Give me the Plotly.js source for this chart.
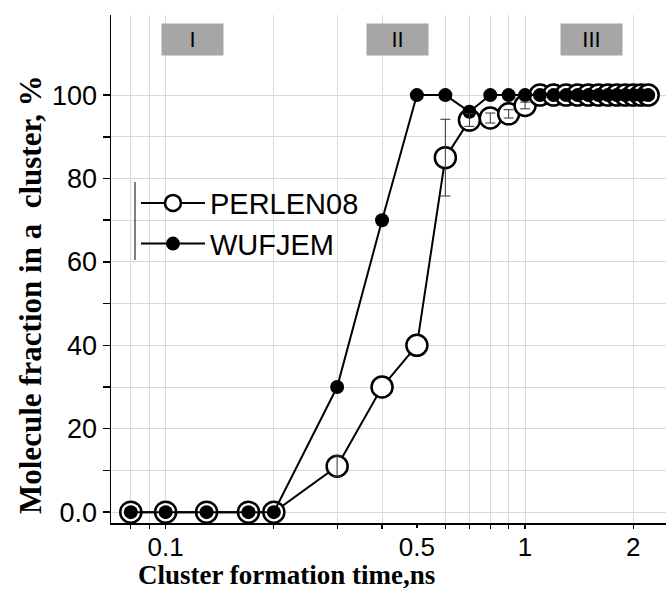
<!DOCTYPE html>
<html>
<head>
<meta charset="utf-8">
<script src="https://cdn.plot.ly/plotly-3.0.1.min.js"></script>
<style>html,body{margin:0;padding:0;background:#fff;}#chart{width:666px;height:591px;}</style>
</head>
<body>
<div id="chart"></div>
<script>
// Data
const timeNs = [0.08, 0.1, 0.13, 0.17, 0.2, 0.3, 0.4, 0.5, 0.6, 0.7, 0.8, 0.9, 1.0,
                1.1, 1.2, 1.3, 1.4, 1.5, 1.6, 1.7, 1.8, 1.9, 2.0, 2.1, 2.2];
const perlen08 = [0, 0, 0, 0, 0, 11, 30, 40, 85, 94, 94.5, 95.5, 97.5,
                  100, 100, 100, 100, 100, 100, 100, 100, 100, 100, 100, 100];
const perlen08Err = [0, 0, 0, 0, 0, 2.5, 0, 0, 9.2, 1.5, 1.2, 1, 0.8,
                     0, 0, 0, 0, 0, 0, 0, 0, 0, 0, 0, 0];
const wufjem = [0, 0, 0, 0, 0, 30, 70, 100, 100, 96, 100, 100, 100,
                100, 100, 100, 100, 100, 100, 100, 100, 100, 100, 100, 100];
const seriesNames = ['PERLEN08', 'WUFJEM'];
const xTickVals = [0.1, 0.5, 1, 2];
const xTickText = ['0.1', '0.5', '1', '2'];
const xMinorVals = [0.08, 0.09, 0.1, 0.2, 0.3, 0.4, 0.6, 0.7, 0.8, 0.9, 1, 2];
const yTickVals = [0, 10, 20, 30, 40, 50, 60, 70, 80, 90, 100];
const yTickText = ['0.0', '', '20', '', '40', '', '60', '', '80', '', '100'];
const regionLabels = ['I', 'II', 'III'];

const sans = 'Liberation Sans, Arial, sans-serif';
const serif = 'Liberation Serif, Times New Roman, serif';

// only points that carry an error bar
const errIdx = perlen08Err.map((e, i) => e > 0 ? i : -1).filter(i => i >= 0);

const traces = [
  {
    x: timeNs, y: perlen08, name: seriesNames[0], type: 'scatter', mode: 'lines+markers',
    line: {color: '#000', width: 2},
    marker: {symbol: 'circle', size: 21, color: '#fff', line: {color: '#000', width: 2.5}}
  },
  {
    x: timeNs, y: wufjem, name: seriesNames[1], type: 'scatter', mode: 'lines+markers',
    line: {color: '#000', width: 2},
    marker: {symbol: 'circle', size: 14, color: '#000', line: {color: '#000', width: 0}}
  },
  {
    x: errIdx.map(i => timeNs[i]), y: errIdx.map(i => perlen08[i]),
    type: 'scatter', mode: 'markers', showlegend: false, hoverinfo: 'skip',
    marker: {size: 1, color: 'rgba(0,0,0,0)'},
    error_y: {type: 'data', array: errIdx.map(i => perlen08Err[i]), visible: true,
              color: '#333', thickness: 1, width: 5}
  }
];

const regionX = [0.1468, 0.517, 0.866];
const annotations = regionLabels.map((t, i) => ({
  text: t, xref: 'paper', yref: 'paper', x: regionX[i], y: 0.952,
  xanchor: 'center', yanchor: 'middle', showarrow: false,
  bgcolor: '#a6a6a6', width: 61, height: 31, borderpad: 0,
  font: {family: sans, size: 22, color: '#000'}
}));
annotations.push({
  text: '<b>Cluster formation time,ns</b>', xref: 'paper', yref: 'paper',
  x: (286 - 111) / 555, y: -(575 - 523) / 508, xanchor: 'center', yanchor: 'middle',
  showarrow: false, borderpad: 0, font: {family: serif, size: 27, color: '#000'}
});
annotations.push({
  text: '<b>Molecule fraction in a  cluster, %</b>', xref: 'paper', yref: 'paper',
  x: -(111 - 30) / 555, y: 1 - (295 - 15) / 508, xanchor: 'center', yanchor: 'middle',
  textangle: -90, showarrow: false, font: {family: serif, size: 31, color: '#000'}
});

const layout = {
  width: 666, height: 591,
  margin: {l: 111, r: 0, t: 15, b: 68},
  paper_bgcolor: '#fff', plot_bgcolor: '#fff',
  showlegend: true,
  legend: {
    x: 0.045, y: 0.68, xanchor: 'left', yanchor: 'top',
    bgcolor: 'rgba(0,0,0,0)', itemwidth: 64, tracegroupgap: 0,
    font: {family: sans, size: 29, color: '#000'}
  },
  xaxis: {
    type: 'log', range: [-1.152, 0.392],
    tickmode: 'array', tickvals: xTickVals, ticktext: xTickText,
    showgrid: false, zeroline: false,
    showline: true, linecolor: '#000', linewidth: 2,
    ticks: 'outside', ticklen: 3, tickwidth: 1.5, tickcolor: '#000',
    ticklabelstandoff: -3,
    tickfont: {family: sans, size: 26, color: '#000'},
    minor: {tickmode: 'array', tickvals: xMinorVals, showgrid: true, gridcolor: '#d9d9d9', gridwidth: 1,
            ticks: 'outside', ticklen: 4, tickcolor: '#000', tickwidth: 1.2}
  },
  yaxis: {
    range: [-2.6, 119.2],
    tickmode: 'array', tickvals: yTickVals, ticktext: yTickText,
    showgrid: true, gridcolor: '#d9d9d9', gridwidth: 1, zeroline: false,
    showline: true, linecolor: '#000', linewidth: 1.5,
    ticks: 'outside', ticklen: 7, tickwidth: 1.5, tickcolor: '#000',
    tickfont: {family: sans, size: 27, color: '#000'}
  },
  annotations: annotations,
  shapes: [{
    type: 'line', xref: 'paper', yref: 'paper',
    x0: (135 - 111) / 555, x1: (135 - 111) / 555,
    y0: 1 - (260 - 15) / 508, y1: 1 - (182 - 15) / 508,
    line: {color: '#000', width: 1}
  }]
};

Plotly.newPlot('chart', traces, layout, {staticPlot: true, displayModeBar: false});
</script>
</body>
</html>
